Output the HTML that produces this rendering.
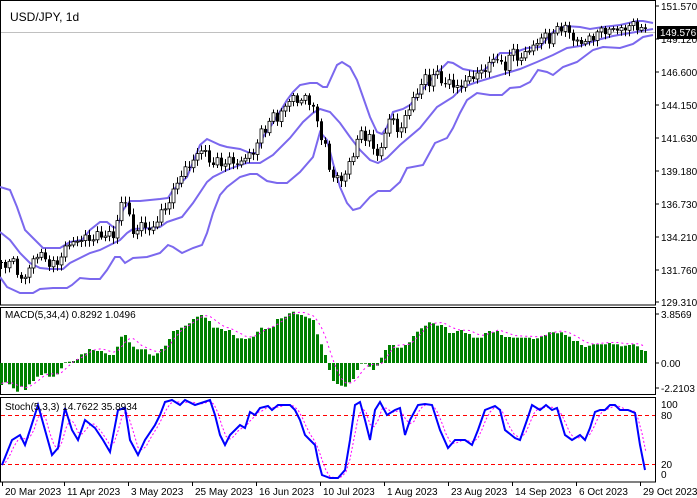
<!DOCTYPE html>
<html><head><meta charset="utf-8"><style>
html,body{margin:0;padding:0;background:#fff;}
svg{display:block;font-family:"Liberation Sans",sans-serif;}
</style></head><body>
<svg id="s" width="697" height="498" viewBox="0 0 697 498" xmlns="http://www.w3.org/2000/svg"></svg>
<script>
var s=document.getElementById('s'),out='';
function interp(pts,x){if(x<=pts[0][0])return pts[0][1];for(var i=1;i<pts.length;i++){if(x<=pts[i][0]){var a=pts[i-1],b=pts[i];return a[1]+(b[1]-a[1])*(x-a[0])/(b[0]-a[0]);}}return pts[pts.length-1][1];}
function pl(p,st){return '<polyline fill="none" points="'+p.map(function(q){return q[0]+','+q[1]}).join(' ')+'" '+st+'/>';}
// frames
out+='<rect x="0.5" y="0.5" width="655" height="304.5" fill="none" stroke="#000"/>';
out+='<rect x="0.5" y="307.5" width="655" height="87" fill="none" stroke="#000"/>';
out+='<rect x="0.5" y="397.5" width="655" height="84.5" fill="none" stroke="#000"/>';
out+='<line x1="1" y1="32.5" x2="655" y2="32.5" stroke="#c0c0c0"/>';
// bands
var up=[[0,187],[10,190],[17,207],[25,230],[33,238],[43,248],[60,248],[70,242],[82,240],[90,230],[100,222],[107,222],[113,227],[117,228],[123,210],[130,201],[140,201],[160,199],[168,198],[173,190],[187,177],[200,145],[207,139],[220,145],[227,147],[240,149],[250,153],[257,153],[263,137],[273,123],[287,100],[293,92],[300,85],[310,83],[317,83],[323,87],[327,87],[337,65],[342,62],[350,67],[357,80],[363,97],[370,117],[377,132],[382,134],[387,127],[393,112],[403,109],[410,105],[420,93],[433,77],[448,62],[453,63],[463,69],[473,71],[483,71],[490,65],[500,53],[513,53],[527,48],[540,47],[553,32],[565,26],[580,27],[590,29],[603,27],[620,25],[637,21],[643,21],[653,23]];
var mid=[[0,232],[10,240],[20,253],[30,263],[40,268],[50,269],[63,269],[70,263],[80,258],[90,253],[100,250],[110,245],[120,240],[127,233],[133,229],[153,228],[160,227],[167,222],[173,220],[182,217],[193,203],[207,182],[213,177],[227,170],[240,165],[247,163],[260,163],[273,155],[290,138],[303,122],[313,113],[320,109],[330,112],[340,123],[350,137],[360,150],[370,160],[378,163],[387,158],[400,145],[420,128],[437,107],[453,97],[463,87],[477,82],[497,76],[520,69],[537,62],[553,55],[567,48],[580,46],[597,40],[613,36],[630,33],[653,29]];
var lo=[[0,277],[7,287],[20,293],[33,293],[40,289],[53,288],[67,288],[72,285],[80,278],[90,279],[100,279],[107,270],[115,257],[120,257],[125,263],[133,258],[147,257],[160,253],[168,245],[173,247],[182,253],[193,248],[202,245],[207,233],[213,213],[220,195],[227,187],[240,177],[250,174],[257,174],[267,181],[277,183],[287,183],[300,172],[313,157],[320,132],[327,140],[333,163],[340,187],[347,203],[353,210],[360,208],[370,197],[378,191],[390,191],[400,182],[407,168],[423,165],[435,143],[447,138],[453,128],[460,113],[467,100],[477,93],[490,95],[502,95],[510,88],[520,87],[530,82],[538,70],[547,72],[553,75],[563,67],[577,62],[593,50],[603,47],[620,48],[633,44],[643,37],[653,35]];
var bs='stroke="#7b68ee" stroke-width="2"';
out+=pl(up,bs)+pl(mid,bs)+pl(lo,bs);
// candles
var cl=[[2,260],[8,270],[14,255],[20,285],[26,275],[34,258],[40,255],[46,257],[50,266],[56,265],[62,254],[70,243],[80,240],[88,238],[95,238],[100,235],[110,234],[115,238],[120,205],[124,195],[128,213],[133,231],[140,228],[146,225],[152,232],[158,220],[162,210],[168,205],[173,195],[178,178],[185,172],[193,160],[200,152],[203,148],[207,155],[212,165],[218,162],[225,163],[232,160],[238,165],[245,158],[250,155],[255,150],[260,135],[265,130],[272,115],[278,120],[282,110],[288,103],[292,98],[300,100],[306,100],[312,102],[315,110],[318,127],[322,140],[326,145],[330,172],[335,180],[340,178],[345,175],[350,165],[355,148],[360,130],[365,140],[370,135],[375,152],[380,160],[385,130],[390,118],[395,125],[400,132],[405,118],[410,108],[415,95],[420,88],[425,78],[430,82],[435,72],[440,78],[445,85],[450,80],[455,90],[460,85],[465,82],[470,80],[475,72],[480,75],[485,70],[490,62],[495,58],[500,62],[505,68],[510,55],[515,52],[520,60],[525,55],[530,48],[535,45],[540,40],[545,35],[550,40],[555,32],[560,28],[565,25],[570,36],[575,40],[580,42],[585,43],[590,38],[595,35],[600,32],[605,30],[610,30],[615,30],[620,29],[625,28],[630,27],[635,23],[640,28],[645,32]];
var prev=262;
for(var i=0;i<=161;i++){var cx=4*i+1.5;var c=interp(cl,cx)+Math.sin(i*2.3)*3+Math.cos(i*1.7)*2;var o=prev;prev=c;
var t=Math.min(o,c),b=Math.max(o,c);if(b-t<1){b=t+1;}
var h=t-2-Math.abs(Math.sin(i*3.1))*4,l=b+2+Math.abs(Math.cos(i*2.7))*4;
out+='<line x1="'+cx+'" y1="'+h.toFixed(1)+'" x2="'+cx+'" y2="'+l.toFixed(1)+'" stroke="#000"/>';
if(c<o) out+='<rect x="'+(cx-1.5)+'" y="'+t.toFixed(1)+'" width="3" height="'+(b-t).toFixed(1)+'" fill="#fff" stroke="#000" stroke-width="0.8"/>';
else out+='<rect x="'+(cx-1.5)+'" y="'+t.toFixed(1)+'" width="3" height="'+(b-t).toFixed(1)+'" fill="#000"/>';}
// MACD
var z1=[240,232,238,250,260,245,255,238,228,215,210,205,215,215,208,190,172,170,168,162,148,145,132,135,138,138,145,150,150,125,95,90,112,125,133,133,133,148,152,145,132,122,102,78,75,68,62,55,42,35,30,38,48,68,68,72,78,75,90,100,100,102,100,95,80,68,72,70,65,42,40,35,25,20,28,30,35,40,45,88,118,150,195,228,237,242,245,232,222,195,176,176,185,195,182,158,135,120,120,128,128,120,112,93,80,70,62,52,55,62,60,66,84,84,78,75,84,87,98,98,98,84,78,82,78,90,96,96,98,98,98,98,98,102,100,94,90,82,82,85,82,90,95,108,108,120,126,122,118,118,118,118,114,118,118,124,122,120,118,124,135,138];
var mv=z1.map(function(z){return 305+z/3;});
var sig=[];
for(var i=0;i<mv.length;i++){var y=mv[i];var t2=Math.min(y,363),b2=Math.max(y,363);
out+='<rect x="'+(4*i)+'" y="'+t2.toFixed(1)+'" width="3" height="'+(b2-t2).toFixed(1)+'" fill="#008000"/>';
var a=0,n=0;for(var k=Math.max(0,i-3);k<=i;k++){a+=mv[k];n++;}sig.push([4*i+1.5,(a/n-1.5).toFixed(1)]);}
out+=pl(sig,'stroke="#ff00ff" stroke-width="1" stroke-dasharray="2,3"');
// Stoch
out+='<line x1="1" y1="415.5" x2="655" y2="415.5" stroke="#ff0000" stroke-dasharray="4,3"/>';
out+='<line x1="1" y1="464.5" x2="655" y2="464.5" stroke="#ff0000" stroke-dasharray="4,3"/>';
var st=[[2,465],[12,440],[20,435],[25,445],[30,430],[38,405],[45,430],[52,455],[58,448],[65,408],[72,430],[78,440],[85,420],[95,428],[103,440],[110,452],[118,410],[125,408],[130,440],[138,455],[145,440],[155,425],[160,415],[165,402],[172,400],[180,405],[185,400],[195,405],[210,400],[215,415],[220,435],[225,445],[230,435],[240,425],[245,428],[250,412],[255,415],[260,408],[268,406],[272,410],[278,405],[290,405],[295,410],[300,420],[305,435],[310,440],[315,445],[318,460],[322,475],[330,478],[338,478],[345,470],[350,440],[355,405],[360,402],[365,420],[370,440],[375,410],[380,402],[387,415],[395,410],[400,408],[405,435],[410,420],[418,405],[425,404],[432,405],[440,430],[448,448],[455,440],[465,440],[472,445],[478,430],[485,410],[495,406],[500,410],[505,430],[515,438],[520,440],[527,420],[532,405],[540,410],[546,405],[552,410],[557,408],[565,435],[572,440],[580,435],[585,440],[590,428],[595,412],[600,410],[605,410],[610,405],[615,405],[620,410],[628,410],[635,413],[640,445],[645,470]];
var ss=[];for(var x=2;x<=647;x+=4){ss.push([x,((interp(st,x)+interp(st,x-4)+interp(st,x-8))/3).toFixed(1)]);}
out+=pl(ss,'stroke="#ff00ff" stroke-width="1" stroke-dasharray="2,2"');
out+=pl(st,'stroke="#0000ff" stroke-width="2"');
// text
out+='<text x="10" y="21" font-size="12">USD/JPY, 1d</text>';
out+='<text x="5" y="318" font-size="10">MACD(5,34,4) 0.8292 1.0496</text>';
out+='<text x="5" y="410" font-size="10">Stoch(5,3,3) 14.7622 35.8934</text>';
var pr=[["151.570",6],["149.120",39],["146.600",72],["144.150",105],["141.630",138],["139.180",171],["136.730",204],["134.210",237],["131.760",270],["129.310",302]];
pr.forEach(function(p){out+='<line x1="655" y1="'+p[1]+'" x2="659" y2="'+p[1]+'" stroke="#000"/><text x="661" y="'+(p[1]+4)+'" font-size="10">'+p[0]+'</text>';});
out+='<rect x="657" y="26" width="40" height="13" fill="#000"/><text x="660" y="36" font-size="10" fill="#fff">149.576</text>';
[["3.8569",314],["0.00",363],["-2.2103",388]].forEach(function(p){out+='<line x1="655" y1="'+p[1]+'" x2="659" y2="'+p[1]+'" stroke="#000"/><text x="661" y="'+(p[1]+4)+'" font-size="10">'+p[0]+'</text>';});
[["100",404],["80",415],["20",464],["0",474]].forEach(function(p){out+='<text x="661" y="'+(p[1]+4)+'" font-size="10">'+p[0]+'</text>';});
var dl=["20 Mar 2023","11 Apr 2023","3 May 2023","25 May 2023","16 Jun 2023","10 Jul 2023","1 Aug 2023","23 Aug 2023","14 Sep 2023","6 Oct 2023","29 Oct 2023"];
var dx=[2,64,128,192,256,320,384,448,512,576,640];
for(var i=0;i<dl.length;i++){out+='<line x1="'+(dx[i]+0.5)+'" y1="482" x2="'+(dx[i]+0.5)+'" y2="486" stroke="#000"/><text x="'+(dx[i]+3)+'" y="495" font-size="10">'+dl[i]+'</text>';}
s.innerHTML=out;
</script>
</body></html>
